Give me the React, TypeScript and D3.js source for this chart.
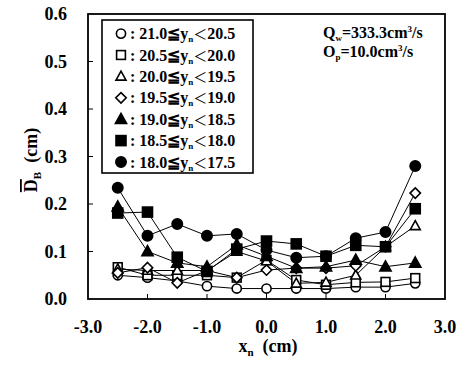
import React from "react";
import * as d3 from "d3";

const xs = [-2.5, -2.0, -1.5, -1.0, -0.5, 0.0, 0.5, 1.0, 1.5, 2.0, 2.5];
const openCircle = [0.05, 0.045, 0.038, 0.027, 0.022, 0.022, 0.022, 0.022, 0.025, 0.025, 0.033];
const openSquare = [0.067, 0.05, 0.05, 0.05, 0.045, 0.082, 0.04, 0.03, 0.035, 0.036, 0.044];
const openTriangle = [0.063, 0.06, 0.06, 0.06, 0.1, 0.08, 0.033, 0.035, 0.05, 0.11, 0.154];
const openDiamond = [0.055, 0.066, 0.034, 0.06, 0.045, 0.061, 0.065, 0.065, 0.07, 0.11, 0.223];
const filledTriangle = [0.194, 0.1, 0.076, 0.068, 0.114, 0.09, 0.065, 0.068, 0.082, 0.068, 0.076];
const filledSquare = [0.181, 0.183, 0.088, 0.058, 0.105, 0.122, 0.116, 0.09, 0.113, 0.11, 0.19];
const filledCircle = [0.234, 0.133, 0.158, 0.133, 0.137, 0.103, 0.087, 0.09, 0.128, 0.141, 0.28];

const legendLo = ["21.0", "20.5", "20.0", "19.5", "19.0", "18.5", "18.0"];
const legendHi = ["20.5", "20.0", "19.5", "19.0", "18.5", "18.0", "17.5"];
const xTicks = [-3, -2, -1, 0, 1, 2, 3];
const yTicks = [0, 0.1, 0.2, 0.3, 0.4, 0.5, 0.6];

type Shape = "circle" | "square" | "triangle" | "diamond";
const series: { values: number[]; shape: Shape; filled: boolean }[] = [
  { values: openCircle, shape: "circle", filled: false },
  { values: openSquare, shape: "square", filled: false },
  { values: openTriangle, shape: "triangle", filled: false },
  { values: openDiamond, shape: "diamond", filled: false },
  { values: filledTriangle, shape: "triangle", filled: true },
  { values: filledSquare, shape: "square", filled: true },
  { values: filledCircle, shape: "circle", filled: true },
];

const FONT = '"Liberation Serif", "DejaVu Serif", serif';

function Marker({ x, y, shape, filled }: { x: number; y: number; shape: Shape; filled: boolean }) {
  const fill = filled ? "#000" : "#fff";
  const sw = 1.6;
  if (shape === "circle") {
    const r = filled ? 5.2 : 4.6;
    return <circle cx={x} cy={y} r={r} fill={fill} stroke="#000" strokeWidth={sw} />;
  }
  if (shape === "square") {
    const h = filled ? 5 : 4.4;
    return <rect x={x - h} y={y - h} width={2 * h} height={2 * h} fill={fill} stroke="#000" strokeWidth={sw} />;
  }
  if (shape === "triangle") {
    const s = filled ? 5.6 : 5;
    const p = `M${x},${y - s * 1.05} L${x + s},${y + s * 0.75} L${x - s},${y + s * 0.75} Z`;
    return <path d={p} fill={fill} stroke="#000" strokeWidth={sw} strokeLinejoin="miter" />;
  }
  const s = 5.2;
  const p = `M${x},${y - s} L${x + s},${y} L${x},${y + s} L${x - s},${y} Z`;
  return <path d={p} fill={fill} stroke="#000" strokeWidth={sw} />;
}

export default function App() {
  const W = 459, H = 367;
  const left = 88, right = 445, top = 14, bottom = 299;
  const x = d3.scaleLinear().domain([-3, 3]).range([left, right]);
  const y = d3.scaleLinear().domain([0, 0.6]).range([bottom, top]);
  const line = d3.line<number>().x((_, i) => x(xs[i])).y((v) => y(v));

  const legX = 102, legY = 20, legW = 151, legH = 153;
  const rowY0 = 33.6, rowDy = 21.4;

  return (
    <svg width={W} height={H} style={{ position: "absolute", left: 0, top: 0, background: "#fff", fontFamily: FONT, fontWeight: 700 }}>
      <rect x={0} y={0} width={W} height={H} fill="#fff" />
      {series.map((s, k) => (
        <path key={"l" + k} d={line(s.values) || ""} fill="none" stroke="#000" strokeWidth={1} />
      ))}
      {series.map((s, k) =>
        s.values.map((v, i) => <Marker key={`m${k}-${i}`} x={x(xs[i])} y={y(v)} shape={s.shape} filled={s.filled} />)
      )}
      <rect x={left} y={top} width={right - left} height={bottom - top} fill="none" stroke="#000" strokeWidth={1.8} />
      {yTicks.slice(1, -1).map((t) => (
        <line key={"yt" + t} x1={left} x2={left + 5} y1={y(t)} y2={y(t)} stroke="#000" strokeWidth={1} />
      ))}
      {xTicks.slice(1, -1).map((t) => (
        <line key={"xt" + t} x1={x(t)} x2={x(t)} y1={bottom} y2={bottom - 5} stroke="#000" strokeWidth={1} />
      ))}
      {yTicks.map((t) => (
        <text key={"yl" + t} x={67} y={y(t) + 6} textAnchor="end" fontSize={18}>
          {t.toFixed(1)}
        </text>
      ))}
      {xTicks.map((t) => (
        <text key={"xl" + t} x={x(t)} y={333} textAnchor="middle" fontSize={18}>
          {t.toFixed(1)}
        </text>
      ))}
      <text x={268} y={352} textAnchor="middle" fontSize={18}>
        x<tspan fontSize={11} dy={4}>n</tspan>
        <tspan dy={-4}>{"\u00a0\u00a0(cm)"}</tspan>
      </text>
      <text transform="translate(37,160) rotate(-90)" textAnchor="middle" fontSize={18}>
        <tspan textDecoration="overline">D</tspan>
        <tspan fontSize={11} dy={4}>B</tspan>
        <tspan dy={-4}>{"\u00a0\u00a0(cm)"}</tspan>
      </text>
      <rect x={legX} y={legY} width={legW} height={legH} fill="#fff" stroke="#000" strokeWidth={1.6} />
      {series.map((s, k) => {
        const ry = rowY0 + k * rowDy;
        return (
          <g key={"lg" + k}>
            <Marker x={121} y={ry} shape={s.shape} filled={s.filled} />
            <text x={130} y={ry + 5.5} fontSize={16}>
              {`: ${legendLo[k]}≦y`}
              <tspan fontSize={9} dy={3}>n</tspan>
              <tspan dy={-3} fontSize={14} style={{ fontFamily: '"Noto Sans CJK JP"', fontWeight: 400 }}>＜</tspan>
              <tspan fontSize={16}>{legendHi[k]}</tspan>
            </text>
          </g>
        );
      })}
      <text x={323} y={38} fontSize={16}>
        Q<tspan fontSize={9} dy={3}>w</tspan>
        <tspan dy={-3}>=333.3cm</tspan>
        <tspan fontSize={9} dy={-6}>3</tspan>
        <tspan dy={6}>/s</tspan>
      </text>
      <text x={323} y={57} fontSize={16}>
        O<tspan fontSize={9} dy={3}>p</tspan>
        <tspan dy={-3}>=10.0cm</tspan>
        <tspan fontSize={9} dy={-6}>3</tspan>
        <tspan dy={6}>/s</tspan>
      </text>
    </svg>
  );
}
